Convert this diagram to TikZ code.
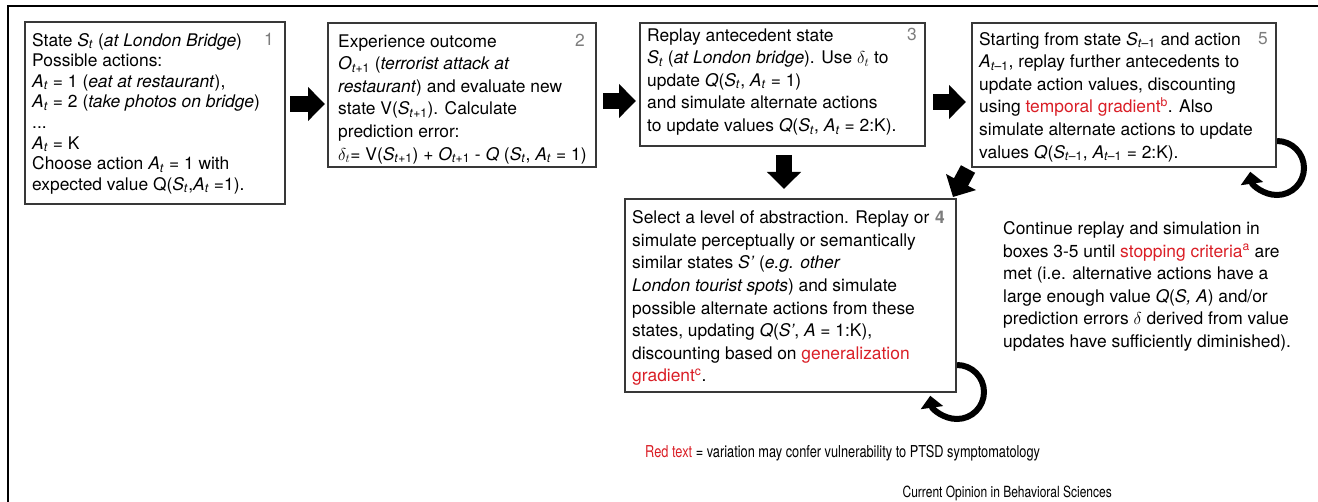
\documentclass[tikz,border=0pt]{standalone}
\usepackage{fontspec}
\setmainfont{TeX Gyre Heros}
\newfontfamily\condfont[FakeStretch=0.78]{TeX Gyre Heros}
\usetikzlibrary{arrows.meta,calc,backgrounds}
\definecolor{redtxt}{RGB}{218,30,38}
\definecolor{numgray}{RGB}{125,125,125}
\newcommand\rd[1]{\textcolor{redtxt}{#1}}
\newcommand\xs[2]{\textit{#1}\textsubscript{#2}}
\begin{document}
\begin{tikzpicture}[x=1pt,y=-1pt,
  box/.style={draw=black!78, line width=1.3pt, fill=white, inner sep=0pt, outer sep=0pt, anchor=north west},
  txt/.style={inner sep=0pt, anchor=north west, align=left, font=\fontsize{17.4}{22.6}\selectfont},
  num/.style={inner sep=0pt, anchor=base east, text=numgray, font=\fontsize{17.4}{22.6}\selectfont},
  fat/.style={line width=16pt, -{Triangle[length=17pt,width=33pt]}},
  loopar/.style={line width=6pt, -{Triangle[length=12pt,width=22pt]}}]
\useasboundingbox (0,0) rectangle (1318,502);
% outer frame
\draw[line width=1.8pt] (1318,6) -- (8,6) -- (8,502);
% boxes
\node[box, minimum width=260pt, minimum height=182pt] (b1) at (25,22) {};
\node[box, minimum width=268pt, minimum height=144pt] (b2) at (328,23) {};
\node[box, minimum width=285pt, minimum height=123pt] (b3) at (640,23) {};
\node[box, minimum width=304pt, minimum height=144pt] (b5) at (972,23) {};
\node[box, minimum width=331pt, minimum height=193pt] (b4) at (625,199) {};
% loop arrows, behind the boxes
\begin{scope}[on background layer]
\draw[loopar] ($(b5.south east)+(1,1)$) ++(0,-27) arc[start angle=-90, end angle=172, radius=27];
\draw[loopar] ($(b4.south east)+(1,0)$) ++(0,-27) arc[start angle=-90, end angle=172, radius=27];
\end{scope}
% texts
\node[txt, font=\fontsize{17.4}{20.6}\selectfont] (t1) at (32,31.5) {\strut State \xs{S}{\textit{t}} (\textit{at London Bridge})\\
Possible actions:\\
\xs{A}{\textit{t}} = 1 (\textit{eat at restaurant}),\\
\xs{A}{\textit{t}} = 2 (\textit{take photos on bridge})\\
...\\
\xs{A}{\textit{t}} = K\\
Choose action \xs{A}{\textit{t}} = 1 with\\
expected value Q(\xs{S}{\textit{t}},\xs{A}{\textit{t}} =1).};
\node[num] (n1) at (274,45.8) {1};

\node[txt] (t2) at (338,31) {\strut Experience outcome\\
\xs{O}{\textit{t}+1} (\textit{terrorist attack at}\\
\textit{restaurant}) and evaluate new\\
state V(\xs{S}{\textit{t}+1}). Calculate\\
prediction error:\\
$\delta_t$= V(\xs{S}{\textit{t}+1}) + \xs{O}{\textit{t}+1} - \textit{Q} (\xs{S}{\textit{t}}, \xs{A}{\textit{t}} = 1)};
\node[num] (n2) at (585,46.8) {2};

\node[txt] (t3) at (647,25) {\strut Replay antecedent state\\
\xs{S}{\textit{t}} (\textit{at London bridge}). Use $\delta_t$ to\\
update \textit{Q}(\xs{S}{\textit{t}}, \xs{A}{\textit{t}} = 1)\\
and simulate alternate actions\\
to update values \textit{Q}(\xs{S}{\textit{t}}, \xs{A}{\textit{t}} = 2:K).};
\node[num] (n3) at (917,40.8) {3};

\node[txt] (t5) at (979,29) {\strut Starting from state \xs{S}{\textit{t}–1} and action\\
\xs{A}{\textit{t}–1}, replay further antecedents to\\
update action values, discounting\\
using \rd{temporal gradient\textsuperscript{b}}. Also\\
simulate alternate actions to update\\
values \textit{Q}(\xs{S}{\textit{t}–1}, \xs{A}{\textit{t}–1} = 2:K).};
\node[num] (n5) at (1268,44.8) {5};

\node[txt] (t4) at (632,207.7) {\strut Select a level of abstraction. Replay or\\
simulate perceptually or semantically\\
similar states \textit{S’} (\textit{e.g. other}\\
\textit{London tourist spots}) and simulate\\
possible alternate actions from these\\
states, updating \textit{Q}(\textit{S’}, \textit{A} = 1:K),\\
discounting based on \rd{generalization}\\
\rd{gradient\textsuperscript{c}}.};
\node[num, font=\fontsize{17.4}{22.6}\selectfont\bfseries] (n4) at (945,223.5) {4};

\node[txt] (note) at (1003,218.5) {\strut Continue replay and simulation in\\
boxes 3-5 until \rd{stopping criteria\textsuperscript{a}} are\\
met (i.e. alternative actions have a\\
large enough value \textit{Q}(\textit{S, A}) and/or\\
prediction errors $\delta$ derived from value\\
updates have sufficiently diminished).};

\node[inner sep=0pt, anchor=base west, font=\condfont\fontsize{16.4}{18}\selectfont] (leg) at (645,458) {\rd{Red text} = variation may confer vulnerability to PTSD symptomatology};
\node[inner sep=0pt, anchor=base east, font=\condfont\fontsize{15.4}{18}\selectfont] (src) at (1112,497) {Current Opinion in Behavioral Sciences};

% block arrows
\draw[fat] ($(b1.east)+(5,-9)$) -- ($(b2.west)+(-3,9)$);
\draw[fat] ($(b2.east)+(7,6)$) -- ($(b3.west)+(-4,16.5)$);
\draw[fat] ($(b3.east)+(8,17.5)$) -- ($(b5.west)+(-6,7)$);
\draw[fat] ($(b3.south)+(1.5,9)$) -- ($(b4.north)+(-6.5,-10)$);
\draw[fat] ($(b5.south west)+(-4,2)$) -- ($(b4.north east)+(-3,-2)$);
\end{tikzpicture}
\end{document}
